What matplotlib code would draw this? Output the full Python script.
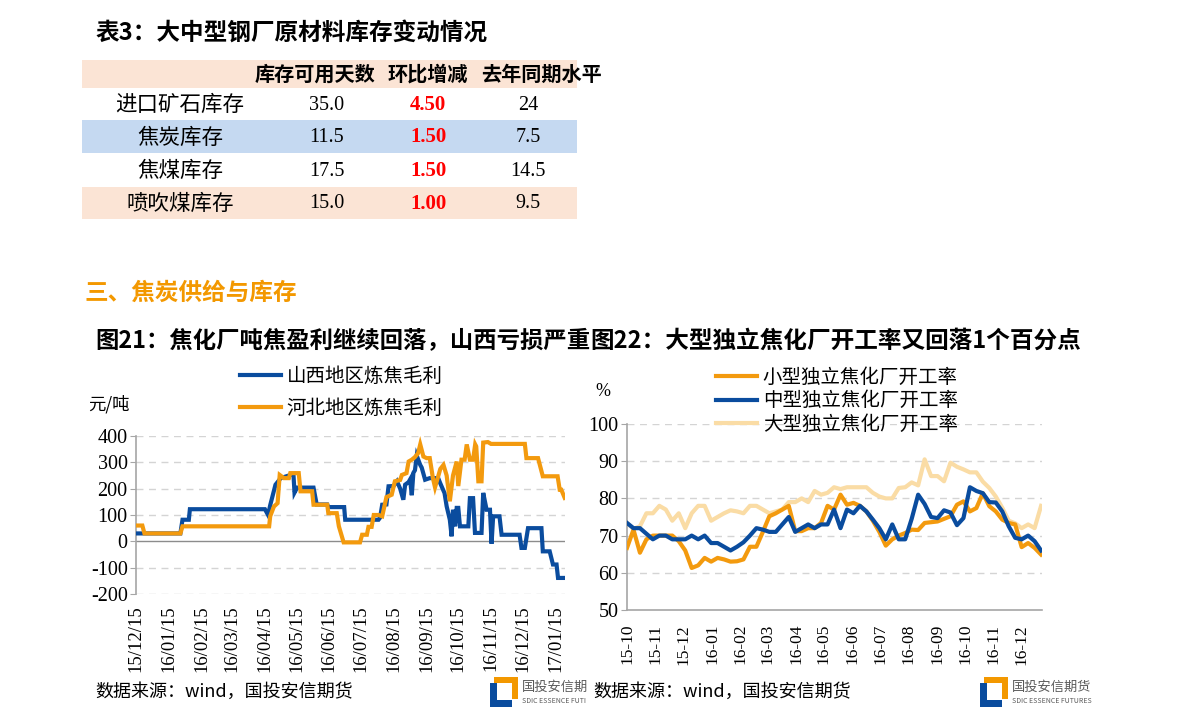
import matplotlib
matplotlib.use('Agg')
import matplotlib.pyplot as plt
import matplotlib.dates as mdates
from matplotlib.patches import Rectangle
import pandas as pd

plt.rcParams['font.family'] = ['Noto Sans CJK SC', 'DejaVu Sans']
plt.rcParams['axes.unicode_minus'] = False

W, H = 1191, 724

# ---- table data ----
table_title = '表3：大中型钢厂原材料库存变动情况'
table_header = ['库存可用天数', '环比增减', '去年同期水平']
row_names = ['进口矿石库存', '焦炭库存', '焦煤库存', '喷吹煤库存']
days_avail = ['35.0', '11.5', '17.5', '15.0']
wow_change = ['4.50', '1.50', '1.50', '1.00']
last_year = ['24', '7.5', '14.5', '9.5']

section_title = '三、焦炭供给与库存'
fig21_title = '图21：焦化厂吨焦盈利继续回落，山西亏损严重'
fig22_title = '图22：大型独立焦化厂开工率又回落1个百分点'
source_text = '数据来源：wind，国投安信期货'

# ---- chart 21: coking margin (day offsets from 2015-12-15) ----
margin_start = '2015-12-15'
shanxi_days = [0, 42, 44, 50, 51, 122, 125, 127, 132, 137, 143, 149, 150, 152.5, 168, 171,
               181, 182, 197, 198, 229.5, 231, 233, 237, 239, 243.7, 247, 250, 253, 254.7,
               258, 259.4, 261, 262.5, 264, 265.7, 269, 270.4, 273.6, 278, 286, 288, 292,
               294, 297, 298.7, 300, 302, 303.5, 305, 306.6, 314.5, 316, 319, 320.8, 327,
               328.6, 331.8, 335, 336.5, 338, 344, 346, 363, 364.8, 368, 371, 383.7, 385,
               391.5, 394.6, 398, 399.4, 405.7]
shanxi_vals = [30, 30, 82, 82, 122, 122, 100, 137, 215, 240, 248, 255, 185, 204, 204, 140,
               140, 130, 130, 82, 82, 90, 139, 140, 209, 210, 228, 200, 158, 215,
               225, 235, 175, 260, 270, 325, 290, 280, 234, 240, 240, 220, 183,
               133, 82, 19, 120, 57, 127, 127, 57, 57, 164, 164, 32, 32,
               184, 120, 120, -9, 95, 95, 25, 25, -25, -25, 50, 50, -38,
               -38, -88, -88, -139, -139]
hebei_days = [0, 6, 8, 42, 44, 126, 127, 130.5, 134, 136, 140, 144.7, 146, 154, 155.7, 166.7,
              168, 181, 182, 190, 192, 196.5, 212, 214, 218.5, 220, 223, 225, 229.5, 233,
              237, 242, 245, 250, 251.6, 256, 258, 261, 264, 267, 269, 272, 275, 278, 281,
              283, 288, 291, 294, 297, 300, 303.5, 305, 308, 311, 313, 316, 319, 321, 322,
              324, 327, 328.6, 333, 336, 368, 369.5, 380.5, 385, 399, 401, 402.5, 405.7]
hebei_vals = [60, 60, 30, 30, 57, 57, 95, 132, 145, 252, 240, 240, 259, 259, 190, 190,
              139, 139, 107, 107, 57, -4, -4, 25, 25, 55, 55, 100, 100, 95,
              168, 177, 228, 233, 252, 259, 303, 310, 320, 335, 368, 322, 316, 316, 240,
              205, 275, 290, 250, 152, 250, 303, 210, 310, 310, 368, 310, 310, 368, 360,
              228, 228, 375, 377, 370, 370, 316, 316, 247, 247, 196, 196, 165]

# ---- chart 22: weekly operating rate (%) ----
rate_start = '2015-10-01'
small_rate = [66.7, 71.6, 65.4, 69, 70, 70, 70, 70, 68.5, 66, 61.3, 62, 64, 63, 64, 63.6,
              63, 63.1, 63.6, 67, 67, 71, 75.2, 76, 77, 78, 71.2, 71.2, 72, 72, 73.4, 78,
              77, 81, 78.3, 78.8, 78, 76.5, 74, 71, 67.3, 69, 70, 70.7, 71.6, 71.5, 73.4,
              73.6, 73.8, 74.5, 75.2, 78.3, 79.2, 76.5, 77.4, 81.4, 77.9, 76.5, 74.3, 73.4,
              73, 66.9, 68, 66.7, 64.9]
mid_rate = [73.4, 72, 72, 70.5, 69, 70, 70, 69, 69, 69, 70, 69, 70, 68, 68, 67,
            66, 67, 68.2, 70, 72, 71.6, 71, 71, 73, 75, 71, 72, 73, 72, 73, 73,
            77, 72, 77, 76, 78, 76.5, 74.3, 72, 69, 73, 69, 69, 74.5, 81, 78.5,
            75, 74.7, 76.8, 76.2, 72.8, 74.7, 83, 82, 81.4, 79, 78.9, 76.5, 72.5,
            69.4, 69, 70, 68.5, 66]
large_rate = [73.4, 71.8, 72.5, 76, 76, 78, 77, 74, 76, 72, 76, 78, 78, 74, 75, 76,
              76.8, 76.5, 76, 78, 78, 77, 76, 76.5, 77, 79, 79, 80, 79, 82, 81, 81.5,
              83, 82.5, 83, 83, 83, 83, 81.5, 80.5, 80, 80, 82.8, 83, 84.3, 83.5, 90.5,
              86, 86, 84.6, 89.6, 88.5, 87.8, 87, 87, 84.5, 82.8, 80.5, 77.5, 74,
              73.3, 72, 73, 72, 78]

BLUE = '#0A4C9E'
ORANGE = '#F39A0E'
LIGHT = '#FADCA5'
GRID = '#D4D4D4'
AXIS = '#A6A6A6'
SERIF = 'Liberation Serif'


def fx(x):
    return x / W


def fy(y):
    return 1 - y / H


def axes_px(fig, x0, x1, y0, y1):
    return fig.add_axes([fx(x0), fy(y1), (x1 - x0) / W, (y1 - y0) / H])


fig = plt.figure(figsize=(W / 100, H / 100), dpi=100)

# ---- table ----
fig.text(fx(95), fy(33), table_title, fontsize=17, fontweight='bold', va='center', ha='left')

row_tops = [60, 88, 120, 153, 187, 219]
row_colors = ['#FBE4D5', 'white', '#C5D9F1', 'white', '#FBE4D5']
for i, color in enumerate(row_colors):
    fig.add_artist(Rectangle((fx(82), fy(row_tops[i + 1])), (577 - 82) / W,
                             (row_tops[i + 1] - row_tops[i]) / H,
                             transform=fig.transFigure, color=color, lw=0))

col_x = [180, 327, 428, 528]
head_x = [315, 428, 541]
hy = (row_tops[0] + row_tops[1]) / 2
for cx, label in zip(head_x, table_header):
    fig.text(fx(cx), fy(hy), label, fontsize=14.5, fontweight='bold', ha='center', va='center')

for i, name in enumerate(row_names):
    cy = (row_tops[i + 1] + row_tops[i + 2]) / 2 + 1
    fig.text(fx(col_x[0]), fy(cy), name, fontsize=15.5, ha='center', va='center')
    fig.text(fx(col_x[1]), fy(cy), days_avail[i], fontsize=14.5, family=SERIF, ha='center', va='center')
    fig.text(fx(col_x[2]), fy(cy), wow_change[i], fontsize=15, family=SERIF, fontweight='bold',
             color='#FF0000', ha='center', va='center')
    fig.text(fx(col_x[3]), fy(cy), last_year[i], fontsize=14.5, family=SERIF, ha='center', va='center')

fig.text(fx(85), fy(293), section_title, fontsize=17, fontweight='bold', color='#F39800',
         ha='left', va='center')
fig.text(fx(95), fy(341), fig21_title, fontsize=16.8, fontweight='bold', ha='left', va='center')
fig.text(fx(590), fy(341), fig22_title, fontsize=17, fontweight='bold', ha='left', va='center')

# ---- chart 21 ----
ax1 = axes_px(fig, 136, 565, 436, 594)
t0 = pd.Timestamp(margin_start)
sx_dates = t0 + pd.to_timedelta(shanxi_days, unit='D')
hb_dates = t0 + pd.to_timedelta(hebei_days, unit='D')
ax1.plot(sx_dates, shanxi_vals, color=BLUE, lw=3, solid_joinstyle='miter', label='山西地区炼焦毛利', zorder=3)
ax1.plot(hb_dates, hebei_vals, color=ORANGE, lw=3, solid_joinstyle='miter', label='河北地区炼焦毛利', zorder=4)
ax1.set_ylim(-200, 400)
ax1.set_yticks(range(-200, 401, 100))
ax1.set_xlim(t0, t0 + pd.Timedelta(days=406))
ax1.xaxis.set_major_locator(mdates.MonthLocator(bymonthday=15))
ax1.xaxis.set_major_formatter(mdates.DateFormatter('%y/%m/%d'))
for s in ['top', 'right', 'bottom']:
    ax1.spines[s].set_visible(False)
ax1.spines['left'].set_color(AXIS)
ax1.spines['left'].set_linewidth(1.2)
for v in range(-200, 401, 100):
    if v != 0:
        ax1.axhline(v, color=GRID, lw=1, ls=(0, (5, 4)), zorder=1)
ax1.axhline(0, color='#8C8C8C', lw=1, zorder=2)
ax1.tick_params(axis='y', length=4, color=AXIS, labelsize=14.5, pad=2)
ax1.tick_params(axis='x', length=0, labelsize=13.5, pad=8, labelrotation=90)
for lab in ax1.get_yticklabels() + ax1.get_xticklabels():
    lab.set_family(SERIF)
for lab in ax1.get_xticklabels():
    lab.set_va('top')
ax1.legend(loc='upper left', bbox_to_anchor=(fx(240), fy(366)), bbox_transform=fig.transFigure,
           frameon=False, fontsize=14, handlelength=2.1, handletextpad=0.3,
           labelspacing=0.55, borderpad=0, borderaxespad=0)
fig.text(fx(88), fy(404), '元/吨', fontsize=12.5, ha='left', va='center')

# ---- chart 22 ----
ax2 = axes_px(fig, 627, 1042, 424, 610)
wk = pd.date_range(rate_start, periods=len(small_rate), freq='7D')
ax2.plot(wk, small_rate, color=ORANGE, lw=3, label='小型独立焦化厂开工率', zorder=3)
ax2.plot(wk, mid_rate, color=BLUE, lw=3, label='中型独立焦化厂开工率', zorder=4)
ax2.plot(wk, large_rate, color=LIGHT, lw=3, label='大型独立焦化厂开工率', zorder=2)
ax2.set_ylim(50, 100)
ax2.set_yticks(range(50, 101, 10))
ax2.set_xlim(wk[0], wk[-1] + pd.Timedelta(days=1))
ax2.xaxis.set_major_locator(mdates.MonthLocator(bymonthday=1))
ax2.xaxis.set_major_formatter(mdates.DateFormatter('%y-%m'))
for s in ['top', 'right']:
    ax2.spines[s].set_visible(False)
for s in ['left', 'bottom']:
    ax2.spines[s].set_color(AXIS)
    ax2.spines[s].set_linewidth(1.2)
for v in range(60, 101, 10):
    ax2.axhline(v, color=GRID, lw=1, ls=(0, (5, 4)), zorder=1)
ax2.tick_params(axis='y', length=4, color=AXIS, labelsize=14.5, pad=2)
ax2.tick_params(axis='x', length=0, labelsize=12.5, pad=10, labelrotation=90)
for lab in ax2.get_yticklabels() + ax2.get_xticklabels():
    lab.set_family(SERIF)
for lab in ax2.get_xticklabels():
    lab.set_va('top')
ax2.legend(loc='upper left', bbox_to_anchor=(fx(716), fy(367)), bbox_transform=fig.transFigure,
           frameon=False, fontsize=14, handlelength=2.1, handletextpad=0.3,
           labelspacing=0.12, borderpad=0, borderaxespad=0)
fig.text(fx(595), fy(391), '%', fontsize=13, family=SERIF, ha='left', va='center')

# ---- footers ----
fig.text(fx(95), fy(692), source_text, fontsize=13, ha='left', va='center')
fig.text(fx(593), fy(692), source_text, fontsize=13, ha='left', va='center')


def logo(x, y, name, sub):
    # rough version of the company mark
    parts = [((x + 4, y - 1), 24, 6, '#F39800'), ((x + 22, y - 1), 6, 22, '#F39800'),
             ((x, y + 5), 7, 24, '#0A4C9E'), ((x, y + 22), 22, 7, '#0A4C9E')]
    for (px, py), w, h, c in parts:
        fig.add_artist(Rectangle((fx(px), fy(py + h)), w / W, h / H, transform=fig.transFigure,
                                 color=c, lw=0))
    fig.text(fx(x + 32), fy(y + 9), name, fontsize=9.5, color='#595959', ha='left', va='center')
    fig.text(fx(x + 32), fy(y + 23), sub, fontsize=5, color='#595959', ha='left', va='center')


logo(490, 678, '国投安信期', 'SDIC ESSENCE FUTI')
logo(980, 678, '国投安信期货', 'SDIC ESSENCE FUTURES')

fig.savefig('out.png', dpi=100)
